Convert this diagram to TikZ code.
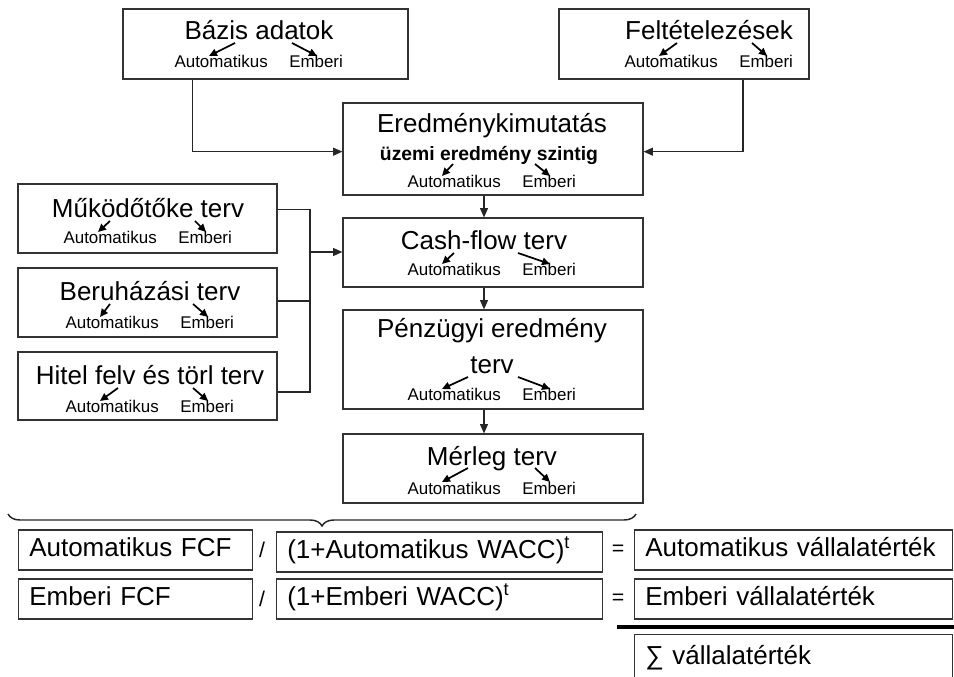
\documentclass[tikz,border=0pt]{standalone}
\usepackage{fontspec}
\setmainfont{Liberation Sans}
\usetikzlibrary{arrows.meta,decorations.pathreplacing}

\begin{document}
\begin{tikzpicture}
  [x=0.75pt,y=-0.75pt,
   box/.style={draw=black!80,line width=0.9pt,inner sep=0pt},
   ttl/.style={inner sep=0pt,anchor=base,font=\fontsize{19.5}{23}\selectfont},
   lbl/.style={inner sep=0pt,font=\fontsize{12.7}{15}\selectfont},
   link/.style={draw=black!85,line width=0.8pt},
   tip/.style={link,-{Triangle[length=7pt,width=6pt]}},
   ptr/.style={line width=1.3pt,-{Triangle[length=6pt,width=5.5pt]}},
   cell/.style={draw=black!80,line width=0.9pt,anchor=west,align=left,
     inner xsep=8pt,minimum height=30pt,text width=#1,
     execute at begin node=\strut,
     font=\fontsize{19.5}{23}\selectfont},
   op/.style={inner sep=0pt,font=\fontsize{16}{19}\selectfont}]
  \clip (0,0) rectangle (954,677);
  % tervek: doboz, cim, Automatikus / Emberi
  \foreach \n/\x/\y/\w/\h/\tx/\tb/\lx/\lb/\ao/\eo/\t in {
      bazis/265.5/44/285/70/259/40/259/68/-24/33/{Bázis adatok},
      felt/684/44/250/70/709/40/709/68/-32/43/{Feltételezések},
      eredm/493/149/300/92/489/161/492/188/-36/46/{\bfseries\fontsize{14.5}{17}\selectfont üzemi eredmény szintig},
      cash/493/252.5/300/69/484/250/492/276/-30/34/{Cash-flow terv},
      penz/493/359.5/300/99/492/374/492/401/-24/26/{terv},
      merleg/493/468.5/300/69/492/465/492/494/-24/43/{Mérleg terv},
      muk/147.5/218.5/259/69/148/218/148/244/-38/47/{Működőtőke terv},
      beru/147.5/302.5/259/69/150/301/150/329/-40/43/{Beruházási terv},
      hitel/147.5/386/259/68/150/385/150/413/-32/43/{Hitel felv és törl terv}}
  {
    \node[box,minimum width=\w*0.75pt,minimum height=\h*0.75pt] (\n) at (\x,\y) {};
    \node[ttl] (\n-t) at (\tx,\tb) {\t};
    \node[lbl,anchor=base east] (\n-a) at (\lx+9,\lb) {Automatikus};
    \node[lbl,anchor=base west] (\n-e) at (\lx+30,\lb) {Emberi};
    \draw[ptr] ([shift={(\ao,3)}]\n-t.base) -- ([shift={(-59,-12)}]\n-a.base east);
    \draw[ptr] ([shift={(\eo,3)}]\n-t.base) -- ([shift={(28,-12)}]\n-e.base west);
  }
  \node[ttl] (eredm-h) at (492,133) {Eredménykimutatás};
  \node[ttl] (penz-h) at (492,338) {Pénzügyi eredmény};

  % kapcsolatok
  \draw[tip] ([xshift=-55pt]bazis.south) |- ([yshift=-2pt]eredm.west);
  \draw[tip] ([xshift=44.25pt]felt.south) |- ([yshift=-2pt]eredm.east);
  \foreach \a/\b in {eredm/cash,cash/penz,penz/merleg}
    \draw[tip] ([xshift=-6.75pt]\a.south) -- ([xshift=-6.75pt]\b.north);
  \coordinate (jn) at (310,252);
  \draw[link] ([yshift=6.4pt]muk.east) -| (jn);
  \draw[link] ([yshift=1.1pt]beru.east) -| (jn);
  \draw[link] ([yshift=-4.5pt]hitel.east) -| (jn);
  \draw[tip] (jn) -- (jn -| cash.west);

  % kapcsos zarojel
  \coordinate (bl) at (8,514);
  \coordinate (br) at (636,514);
  \draw[decorate,decoration={brace,mirror,amplitude=9pt},line width=1.1pt,black!85] (bl) -- (br);

  % ertekeles
  \node[cell=159.5pt] (afcf) at (18,550) {Automatikus FCF};
  \node[cell=159.5pt] (efcf) at (18,599) {Emberi FCF};
  \node[op] (d1) at (262,550) {/};
  \node[op] (d2) at (262,599) {/};
  \node[cell=228.5pt] (awacc) at (276,552) {(1+Automatikus WACC)\smash{\textsuperscript{t}}};
  \node[cell=228.5pt] (ewacc) at (276,599) {(1+Emberi WACC)\smash{\textsuperscript{t}}};
  \node[op] (q1) at (618,550) {=};
  \node[op] (q2) at (618,599) {=};
  \node[cell=222.5pt] (avt) at (634,550) {Automatikus vállalatérték};
  \node[cell=222.5pt] (evt) at (634,599) {Emberi vállalatérték};
  \draw[line width=2.6pt] (617,627) -- (954,627);
  \node[cell=222.5pt,anchor=north west,minimum height=0pt,inner ysep=6pt,
    text depth=20pt] (svt) at (634,634) {∑ vállalatérték};
\end{tikzpicture}
\end{document}
